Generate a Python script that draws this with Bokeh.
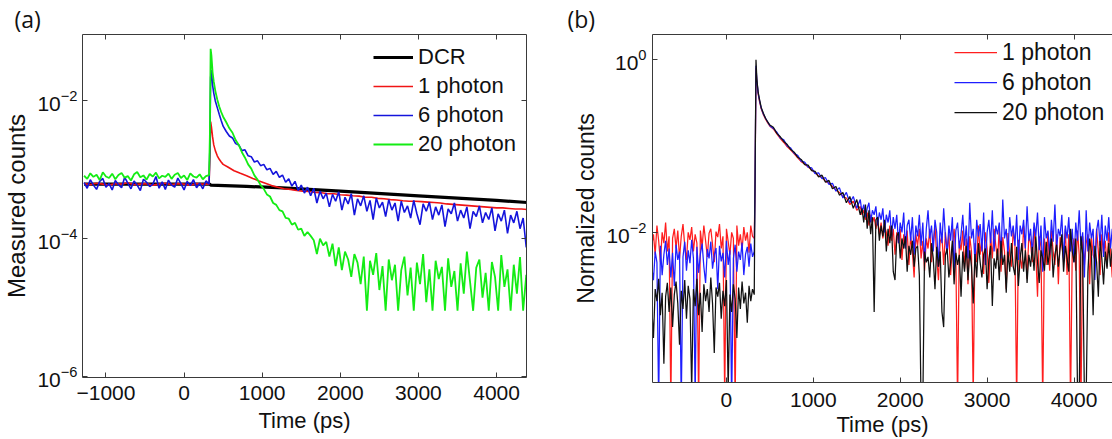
import numpy as np
from bokeh.plotting import figure
from bokeh.layouts import row
from bokeh.models import (FixedTicker, LinearAxis, LogAxis, Legend, LegendItem,
                          Range1d, Title)
from bokeh.embed import file_html
from bokeh.resources import INLINE

# ================= panel (a): measured counts =================
# sampling times (ps)
time_pre_a = list(range(-1280, 321, 40))          # before the pulse
time_peak = [330, 340, 350, 365, 380, 400, 425, 450, 475, 500]
time_post_a = list(range(540, 4381, 40))          # after the pulse
time_red_a = list(range(-1280, 321, 80)) + time_peak + list(range(560, 4401, 80))
time_dcr = [-1280, 330, 340, 800, 1200, 2000, 3000, 4000, 4400]

dcr_counts = [6.2e-4, 6.2e-4, 6.0e-4, 5.75e-4, 5.5e-4, 4.9e-4, 4.2e-4, 3.6e-4, 3.35e-4]

red_pre_e4 = [6.3, 6.1, 6.4, 6.2, 6.0, 6.3, 6.2, 6.5, 6.1, 6.2, 6.3, 6.0, 6.2, 6.4,
              6.1, 6.3, 6.2, 6.0, 6.3, 6.2, 6.2]
red_peak = [1.5e-3, 5.0e-3, 4.2e-3, 3.0e-3, 2.3e-3, 1.9e-3, 1.6e-3, 1.42e-3, 1.3e-3, 1.2e-3]
red_post_e4 = [11.0, 9.7, 8.9, 8.2, 7.5, 6.9, 6.4, 5.9, 5.6, 5.3,
               5.2, 5.0, 4.9, 4.85, 4.7, 4.65, 4.5, 4.5, 4.35, 4.3,
               4.2, 4.15, 4.0, 4.0, 3.85, 3.8, 3.7, 3.65, 3.55, 3.5,
               3.5, 3.45, 3.4, 3.35, 3.3, 3.2, 3.15, 3.1, 3.05, 3.0,
               2.95, 2.9, 2.85, 2.8, 2.8, 2.75, 2.7, 2.7, 2.65]

blue_pre_e4 = [6.5, 5.4, 7.2, 6.0, 5.2, 6.8, 7.5, 5.6, 6.3, 5.1,
               7.0, 6.1, 5.5, 7.8, 6.4, 5.3, 6.9, 6.0, 5.0, 7.3,
               6.6, 5.7, 6.2, 8.0, 5.4, 6.7, 5.2, 7.1, 6.0, 5.6,
               7.6, 6.3, 5.1, 6.8, 5.9, 7.2, 5.5, 6.4, 5.3, 6.9, 6.2]
blue_peak = [2.0e-3, 2.2e-2, 2.8e-2, 1.7e-2, 1.3e-2, 1.0e-2, 8.0e-3, 6.4e-3, 5.2e-3, 4.3e-3]
blue_post_e4 = [36, 31, 29, 24, 23, 19, 19.5, 16, 15.5, 13,
                13.5, 11.5, 12, 10, 10.5, 8.6, 9.5, 7.8, 8.4, 6.6,
                7.4, 5.8, 6.8, 5.0, 6.0, 4.6, 5.6, 4.2, 5.4, 3.3,
                4.9, 3.8, 4.6, 2.9, 4.4, 3.5, 4.8, 2.6, 4.0, 3.2,
                4.5, 2.2, 3.8, 3.0, 4.2, 2.5, 3.6, 1.9, 3.9, 2.8,
                3.4, 2.1, 3.7, 2.6, 3.3, 1.8, 3.5, 2.4, 3.0, 2.0,
                3.6, 2.3, 1.6, 3.2, 2.5, 3.4, 1.9, 2.9, 2.2, 3.1,
                1.5, 2.7, 2.3, 3.3, 1.8, 2.6, 2.0, 2.9, 1.4, 2.5,
                2.1, 3.0, 1.7, 2.4, 1.9, 2.8, 1.3, 2.3, 1.8, 2.6,
                1.2, 2.2, 1.7, 2.5, 1.4, 2.0, 0.75]

green_pre_e4 = [8.2, 7.4, 8.9, 7.9, 8.5, 7.1, 9.2, 8.0, 7.6, 8.8,
                7.3, 8.4, 9.0, 7.7, 8.1, 7.0, 8.6, 9.3, 7.8, 8.3,
                7.2, 8.7, 8.0, 9.1, 7.5, 8.2, 7.9, 8.8, 7.4, 8.5,
                9.0, 7.6, 8.3, 7.1, 8.9, 8.0, 7.7, 8.6, 7.3, 8.1, 8.4]
green_peak = [3.0e-3, 5.7e-2, 4.6e-2, 2.6e-2, 1.9e-2, 1.4e-2, 1.05e-2, 8.3e-3, 6.9e-3, 5.9e-3]
green_decay_e5 = [490, 400, 345, 270, 230, 180, 150, 120, 104, 83,
                  72, 60, 53, 44, 41, 33, 31, 26, 25, 20,
                  19.5, 16, 17, 13.5, 14, 11, 12.5]
green_tail_e5 = [11, 9.5, 6.0, 10, 8.0, 9.0, 5.5, 8.5, 4.0, 7.5,
                 3.5, 6.5, 5.0, 2.8, 6.0, 4.5, 2.2, 5.5, 0.9, 4.8,
                 3.0, 6.2, 1.8, 4.0, 0.9, 5.0, 2.5, 4.2, 0.9, 3.5,
                 5.5, 1.5, 3.8, 0.9, 4.5, 2.2, 6.0, 1.2, 3.6, 0.9,
                 4.8, 2.6, 3.9, 0.9, 5.2, 2.0, 3.4, 0.9, 4.4, 1.6,
                 6.5, 2.4, 0.9, 3.8, 5.0, 1.4, 3.2, 0.9, 4.6, 2.8,
                 0.9, 5.8, 2.0, 3.6, 0.9, 4.2, 1.6, 5.4, 0.9, 3.0]

# ================= panel (b): normalized counts =================
time_pre_b = list(range(-880, 321, 20))
time_decay_b = list(range(540, 1501, 40))
time_tail_b = list(range(1540, 4461, 20))

n1_pre_e3 = [11, 7.0, 9.5, 5.5, 12, 8.0, 4.5, 10, 7.5, 13,
             6.0, 9.0, 0.1, 8.5, 11, 6.5, 10.5, 5.0, 9.0, 12.5,
             7.0, 4.8, 10, 8.2, 11.5, 6.0, 9.5, 7.5, 0.1, 10.5,
             6.8, 12, 8.0, 5.2, 9.8, 11, 7.2, 4.5, 10.2, 8.8,
             12.5, 6.5, 9.0, 0.12, 11, 7.8, 5.5, 10, 8.5, 0.1,
             12, 7.0, 9.5, 6.2, 11.5, 8.0, 10, 5.8, 12, 9.0, 8.5]
n6_pre_e3 = [7.5, 4.0, 2.8, 6.0, 4.5, 0.1, 7.0, 3.2, 5.5, 8.0,
             4.2, 6.5, 3.0, 5.8, 2.4, 7.2, 4.8, 6.0, 0.1, 5.2,
             7.8, 3.6, 6.2, 4.4, 8.2, 5.0, 0.12, 6.8, 3.4, 5.6,
             7.4, 4.0, 2.6, 6.4, 5.0, 7.8, 3.8, 5.4, 6.6, 2.2,
             7.0, 4.6, 5.8, 3.0, 8.0, 4.2, 6.2, 0.1, 5.0, 7.2,
             3.5, 6.0, 4.8, 7.6, 3.2, 5.6, 6.8, 4.0, 7.4, 5.2, 6.0]
n20_pre_e3 = [2.5, 1.4, 0.6, 2.2, 1.6, 2.9, 1.1, 2.0, 0.3, 1.8,
              2.6, 1.2, 2.3, 0.8, 1.9, 2.7, 1.5, 0.5, 2.1, 1.3,
              2.8, 1.0, 2.4, 1.7, 0.15, 2.2, 1.4, 2.9, 1.1, 2.0,
              0.7, 2.5, 1.6, 2.2, 1.2, 3.0, 1.5, 0.4, 2.3, 1.8,
              2.6, 1.0, 2.1, 1.4, 2.8, 0.15, 1.9, 1.2, 2.5, 1.7,
              0.6, 2.3, 1.3, 2.7, 1.5, 2.0, 0.9, 2.4, 1.6, 2.2, 1.9]

n1_peak = [0.04, 0.8, 0.55, 0.40, 0.33, 0.27, 0.23, 0.205, 0.185, 0.17]
n6_peak = [0.045, 0.85, 0.58, 0.41, 0.34, 0.275, 0.235, 0.21, 0.19, 0.172]
n20_peak = [0.05, 1.0, 0.6, 0.42, 0.35, 0.28, 0.24, 0.21, 0.19, 0.175]

n1_decay = [0.158, 0.138, 0.122, 0.11, 0.098, 0.09, 0.081, 0.073, 0.066, 0.062,
            0.057, 0.053, 0.049, 0.045, 0.043, 0.039, 0.037, 0.034, 0.031, 0.029,
            0.026, 0.025, 0.021, 0.023, 0.018]
n6_decay = [0.16, 0.145, 0.124, 0.118, 0.10, 0.095, 0.082, 0.078, 0.067, 0.065,
            0.057, 0.056, 0.048, 0.049, 0.042, 0.043, 0.036, 0.037, 0.030, 0.033,
            0.025, 0.029, 0.022, 0.026, 0.019]
n20_decay = [0.165, 0.14, 0.128, 0.113, 0.104, 0.091, 0.085, 0.074, 0.070, 0.061,
             0.060, 0.052, 0.051, 0.044, 0.046, 0.038, 0.040, 0.032, 0.034, 0.027,
             0.029, 0.022, 0.026, 0.019, 0.024]

n1_tail_e3 = [20, 16, 18, 14, 17, 12, 16, 13, 15, 11,
              14, 9.5, 13, 8.5, 12, 10, 7.0, 12, 8.0, 11,
              5.5, 10, 7.5, 11, 4.8, 9.5, 6.5, 10.5, 4.2, 9.0,
              6.0, 3.0, 9.5, 7.0, 11, 5.0, 8.0, 3.6, 8.5, 6.5,
              11, 4.5, 7.5, 12, 5.2, 2.8, 7.8, 9.0, 4.2, 10,
              6.0, 9.5, 3.2, 7.0, 11, 5.5, 0.1, 8.0, 6.2, 10.5,
              3.8, 8.5, 2.5, 9.0, 6.0, 0.12, 7.5, 4.5, 12, 5.5,
              8.5, 3.3, 10, 6.5, 2.6, 9.5, 5.0, 11, 7.0, 4.8,
              11, 3.5, 8.8, 6.0, 2.2, 9.8, 5.5, 4.0, 10.5, 7.2,
              0.1, 8.2, 5.0, 3.8, 12, 6.5, 2.9, 9.2, 7.5, 4.5,
              11.5, 5.8, 1.8, 9.0, 6.8, 0.1, 8.5, 4.2, 10, 3.6,
              10.5, 6.0, 4.2, 9.5, 2.5, 8.8, 7.0, 4.8, 11, 3.2,
              9.5, 0.1, 6.5, 8.5, 3.6, 10.5, 5.5, 0.1, 9.0, 4.2,
              7.5, 9.5, 2.5, 8.8, 5.5, 4.8, 11, 6.0, 3.2, 9.5,
              5.5, 8.0, 4.0, 10, 6.5, 3.0, 7.5]
n6_tail_e3 = [24, 17, 21, 15, 19, 22, 13, 18, 16, 20,
              12, 17, 14, 19, 10, 16, 13, 18, 9.0, 15,
              11, 16, 7.5, 13, 10, 17, 6.5, 12, 14, 8.0,
              15, 5.5, 12, 9.0, 16, 7.0, 13, 4.5, 11, 18,
              8.5, 12, 6.0, 14, 10, 4.0, 13, 7.5, 19, 9.0,
              5.5, 12, 8.0, 15, 3.5, 10.5, 13, 6.5, 9.5, 16,
              7.0, 12, 5.0, 22, 8.5, 11, 4.5, 14, 9.0, 12.5,
              6.0, 17, 4.2, 10, 14, 7.5, 18, 6.0, 12, 9.5,
              13, 5.0, 24, 8.5, 11, 5.5, 15, 9.0, 12, 7.0,
              16, 4.8, 12, 9.5, 14, 6.5, 20, 8.0, 11, 5.5,
              13, 9.0, 17, 6.2, 12, 3.5, 15, 8.5, 10.5, 5.5,
              14, 7.8, 21, 6.5, 11, 9.0, 16, 4.5, 12, 8.5,
              15, 6.0, 11, 4.5, 13, 8.0, 18, 7.0, 10, 3.0,
              18, 6.0, 13, 8.5, 11, 2.8, 10.5, 14, 7.0, 16,
              5.2, 12, 8.0, 15, 6.5, 11, 9.5]
n20_tail_e3 = [16, 19, 13, 21, 11, 18, 9.5, 15, 1.2, 14,
               15, 8.0, 12, 9.0, 14, 6.0, 11, 7.5, 12, 3.5,
               2.8, 9.0, 10, 5.0, 8.5, 6.5, 9.0, 3.5, 7.0, 5.5,
               8.0, 4.0, 6.5, 7.0, 3.2, 0.1, 0.1, 6.0, 4.5, 5.2,
               3.0, 7.5, 5.0, 2.2, 6.8, 4.0, 6.0, 1.2, 0.8, 5.5,
               6.5, 3.0, 4.5, 8.0, 2.5, 5.8, 4.2, 5.5, 1.8, 6.0,
               3.5, 7.0, 2.8, 6.2, 4.0, 1.5, 5.6, 3.0, 7.5, 4.5,
               3.0, 5.5, 6.5, 2.2, 4.8, 7.0, 1.4, 5.0, 3.8, 6.5,
               2.8, 8.0, 4.2, 5.5, 2.0, 6.0, 3.5, 7.5, 4.0, 3.2,
               6.8, 2.4, 5.0, 7.5, 3.5, 6.2, 2.6, 5.5, 4.0, 6.8,
               3.6, 9.0, 4.5, 2.6, 6.2, 5.0, 3.6, 7.8, 4.2, 6.0,
               8.5, 3.0, 5.5, 7.2, 4.0, 6.5, 9.5, 3.5, 7.0, 5.0,
               3.5, 11, 6.0, 4.5, 8.5, 0.15, 0.12, 9.0, 5.5, 0.12,
               0.12, 3.5, 8.5, 6.0, 1.1, 7.0, 4.5, 1.8, 8.0, 5.0,
               2.5, 6.0, 3.8, 7.5, 4.0, 6.5, 5.0]

# tick positions
xticks_a = [-1000, 0, 1000, 2000, 3000, 4000]
xticks_b = [0, 1000, 2000, 3000, 4000]
yticks_a = [1e-6, 1e-4, 1e-2]
yticks_b = [1e-2, 1.0]


# ================= assemble series =================
def join(*parts):
    return np.concatenate([np.asarray(p, dtype=float) for p in parts])


t_a = join(time_pre_a, time_peak, time_post_a)
t_b = join(time_pre_b, time_peak, time_decay_b, time_tail_b)
red_a = join(np.array(red_pre_e4) * 1e-4, red_peak, np.array(red_post_e4) * 1e-4)
blue_a = join(np.array(blue_pre_e4) * 1e-4, blue_peak, np.array(blue_post_e4) * 1e-4)
green_a = join(np.array(green_pre_e4) * 1e-4, green_peak,
               np.array(green_decay_e5) * 1e-5, np.array(green_tail_e5) * 1e-5)
n1 = join(np.array(n1_pre_e3) * 1e-3, n1_peak, n1_decay, np.array(n1_tail_e3) * 1e-3)
n6 = join(np.array(n6_pre_e3) * 1e-3, n6_peak, n6_decay, np.array(n6_tail_e3) * 1e-3)
n20 = join(np.array(n20_pre_e3) * 1e-3, n20_peak, n20_decay, np.array(n20_tail_e3) * 1e-3)

for name, t, v in [("red_a", time_red_a, red_a), ("blue_a", t_a, blue_a),
                   ("green_a", t_a, green_a), ("n1", t_b, n1), ("n6", t_b, n6),
                   ("n20", t_b, n20), ("dcr", time_dcr, dcr_counts)]:
    if len(t) != len(v):
        raise ValueError(f"{name}: {len(t)} times vs {len(v)} values")

# ================= styling helpers =================
FONT = "Liberation Sans"
AX = "#3a3a3a"
TXT = "#111111"


def style_axis(ax, ticks, show_labels=True, label_size="22px"):
    ax.ticker = FixedTicker(ticks=ticks)
    ax.axis_line_color = AX
    ax.axis_line_width = 1
    ax.major_tick_line_color = AX
    ax.major_tick_in = 5
    ax.major_tick_out = 0
    ax.minor_tick_line_color = None
    ax.major_label_text_font = FONT
    ax.axis_label_text_font = FONT
    ax.axis_label_text_font_style = "normal"
    ax.axis_label_text_color = TXT
    if show_labels:
        ax.major_label_text_color = TXT
        ax.major_label_text_font_size = "21px"
        ax.axis_label_text_font_size = label_size
    else:
        ax.major_label_text_color = None
        ax.major_label_text_font_size = "1px"
        ax.major_label_standoff = 0


def base_fig(width, xr, yr, bl, br, bt, bb):
    p = figure(width=width, height=439, x_range=xr, y_range=yr, y_axis_type="log",
               output_backend="svg", toolbar_location=None, title=None,
               min_border_left=bl, min_border_right=br, min_border_top=bt,
               min_border_bottom=bb)
    p.frame_align = False
    p.outline_line_color = None
    p.xgrid.visible = False
    p.ygrid.visible = False
    p.background_fill_color = "white"
    p.border_fill_color = "white"
    return p


def panel_tag(text, offset):
    return Title(text=text, align="left", offset=offset, standoff=0,
                 text_font="Open Sans", text_font_size="23px",
                 text_font_style="normal", text_color=TXT)


# ================= panel (a) =================
pa = base_fig(556, Range1d(-1300, 4383), Range1d(10 ** -6.014, 10 ** -1.036), 81, 30, 31, 62)
style_axis(pa.xaxis[0], xticks_a)
style_axis(pa.yaxis[0], yticks_a, label_size="24px")
pa.xaxis[0].axis_label = "Time (ps)"
pa.yaxis[0].axis_label = "Measured counts"
pa.xaxis[0].major_label_standoff = 8
pa.xaxis[0].axis_label_standoff = 5
pa.yaxis[0].major_label_standoff = 5
pa.yaxis[0].axis_label_standoff = 4
top_a = LinearAxis()
style_axis(top_a, xticks_a, show_labels=False)
pa.add_layout(top_a, "above")
pa.add_layout(panel_tag("(a)", -68), "above")
right_a = LogAxis()
style_axis(right_a, yticks_a, show_labels=False)
pa.add_layout(right_a, "right")

r_dcr = pa.line(time_dcr, dcr_counts, line_color="black", line_width=3.2)
r_red = pa.line(time_red_a, red_a, line_color="#f01414", line_width=1.6)
r_blue = pa.line(t_a, blue_a, line_color="#1414dc", line_width=1.6)
r_green = pa.line(t_a, green_a, line_color="#14ec14", line_width=1.8)

leg_a = Legend(items=[LegendItem(label="DCR", renderers=[r_dcr]),
                      LegendItem(label="1 photon", renderers=[r_red]),
                      LegendItem(label="6 photon", renderers=[r_blue]),
                      LegendItem(label="20 photon", renderers=[r_green])],
               location=(291, 220), border_line_color=None, background_fill_alpha=0,
               padding=0, margin=0, spacing=3, glyph_width=40, glyph_height=26,
               label_height=26, label_standoff=5, label_text_font=FONT,
               label_text_font_size="22px", label_text_color=TXT)
pa.add_layout(leg_a)

# ================= panel (b) =================
pb = base_fig(556, Range1d(-851, 4443), Range1d(10 ** -3.739, 10 ** 0.292), 96, 0, 26, 54)
style_axis(pb.xaxis[0], xticks_b)
style_axis(pb.yaxis[0], yticks_b, label_size="23px")
pb.xaxis[0].axis_label = "Time (ps)"
pb.yaxis[0].axis_label = "Normalized counts"
pb.xaxis[0].major_label_standoff = 10
pb.xaxis[0].axis_label_standoff = 2
pb.yaxis[0].major_label_standoff = 6
pb.yaxis[0].axis_label_standoff = 4
top_b = LinearAxis()
style_axis(top_b, xticks_b, show_labels=False)
pb.add_layout(top_b, "above")
pb.add_layout(panel_tag("(b)", -85), "above")

r_n1 = pb.line(t_b, n1, line_color="#ff1e1e", line_width=1.25)
r_n6 = pb.line(t_b, n6, line_color="#1e1eff", line_width=1.25)
r_n20 = pb.line(t_b, n20, line_color="#111111", line_width=1.25)

leg_b = Legend(items=[LegendItem(label="1 photon", renderers=[r_n1]),
                      LegendItem(label="6 photon", renderers=[r_n6]),
                      LegendItem(label="20 photon", renderers=[r_n20])],
               location=(302, 256), border_line_color=None, background_fill_alpha=0,
               padding=0, margin=0, spacing=2, glyph_width=43, glyph_height=28,
               label_height=28, label_standoff=5, label_text_font=FONT,
               label_text_font_size="23px", label_text_color=TXT)
pb.add_layout(leg_b)

layout = row(pa, pb, spacing=0)
open("out.html", "w").write(file_html(layout, INLINE))
